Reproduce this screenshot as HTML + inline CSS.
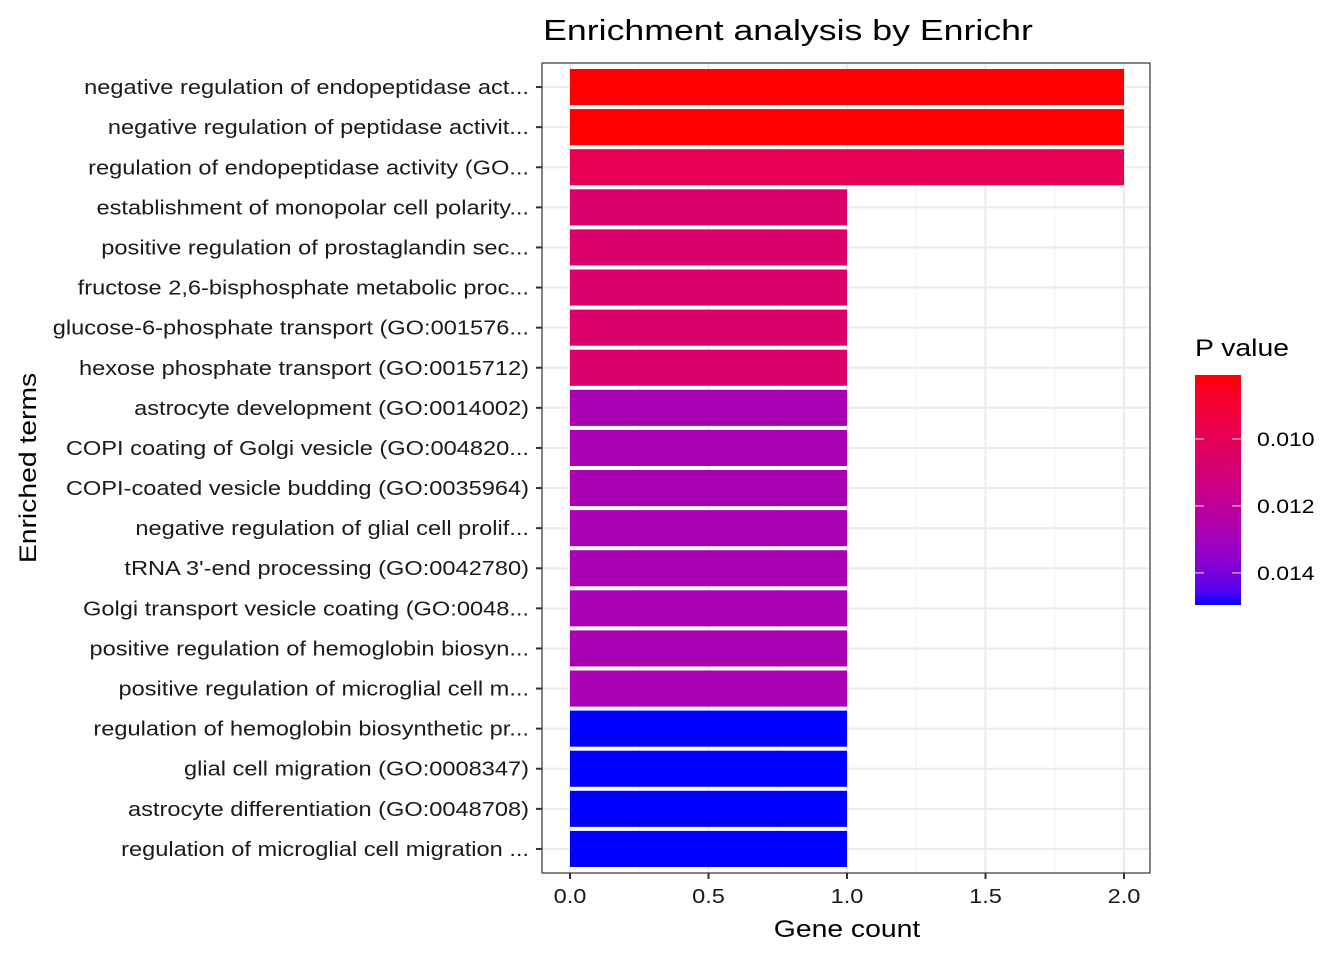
<!DOCTYPE html>
<html><head><meta charset="utf-8"><style>
body{margin:0;background:#fff}
svg text{font-family:"Liberation Sans",Arial,sans-serif}
</style></head><body>
<svg id="chart" width="1344" height="960" xmlns="http://www.w3.org/2000/svg">
<defs>
<linearGradient id="lg" x1="0" y1="0" x2="0" y2="1"></linearGradient>
</defs>
<rect width="1344" height="960" fill="#fff"/>
<text class="st" data-k="1.23" x="788" y="40" font-size="29" text-anchor="middle" fill="#000">Enrichment analysis by Enrichr</text>
<g id="panel"></g>
<text class="st" x="847" y="937" font-size="24" text-anchor="middle" fill="#000">Gene count</text>
<text class="st" transform="translate(36,468) rotate(-90)" font-size="24" text-anchor="middle" fill="#000">Enriched terms</text>
<g id="legend">
<text class="st" x="1195" y="356" font-size="24" fill="#000">P value</text>
</g>
</svg>
<script>
const terms = ["negative regulation of endopeptidase act...","negative regulation of peptidase activit...","regulation of endopeptidase activity (GO...","establishment of monopolar cell polarity...","positive regulation of prostaglandin sec...","fructose 2,6-bisphosphate metabolic proc...","glucose-6-phosphate transport (GO:001576...","hexose phosphate transport (GO:0015712)","astrocyte development (GO:0014002)","COPI coating of Golgi vesicle (GO:004820...","COPI-coated vesicle budding (GO:0035964)","negative regulation of glial cell prolif...","tRNA 3'-end processing (GO:0042780)","Golgi transport vesicle coating (GO:0048...","positive regulation of hemoglobin biosyn...","positive regulation of microglial cell m...","regulation of hemoglobin biosynthetic pr...","glial cell migration (GO:0008347)","astrocyte differentiation (GO:0048708)","regulation of microglial cell migration ..."];
const counts = [2,2,2,1,1,1,1,1,1,1,1,1,1,1,1,1,1,1,1,1];
const pvalues = [0.00809,0.00809,0.0099,0.0106,0.0106,0.0106,0.0106,0.0106,0.0128,0.0128,0.0128,0.0128,0.0128,0.0128,0.0128,0.0128,0.01496,0.01496,0.01496,0.01496];
const xTicks = [0,0.5,1,1.5,2];
const xTickLabels = ["0.0","0.5","1.0","1.5","2.0"];
const legendTicks = [0.010,0.012,0.014];
const legendLabels = ["0.010","0.012","0.014"];
const pMin = 0.00809, pMax = 0.01496;

const NS="http://www.w3.org/2000/svg";
const PL=542, PR=1150, PT=63, PB=873;
const x0=570, xPer=277;
const xs=v=>x0+v*xPer;
const band=(PB-PT)/(terms.length-1+1.2);
const ys=i=>PT+band*(0.6+i);

function toLin(c){c/=255;return c<=0.04045?c/12.92:Math.pow((c+0.055)/1.055,2.4);}
function toS(c){c=c<=0.0031308?12.92*c:1.055*Math.pow(c,1/2.4)-0.055;return Math.max(0,Math.min(255,Math.round(c*255)));}
function rgb2lab(r,g,b){r=toLin(r);g=toLin(g);b=toLin(b);
let X=(0.4124*r+0.3576*g+0.1805*b)/0.95047,Y=0.2126*r+0.7152*g+0.0722*b,Z=(0.0193*r+0.1192*g+0.9505*b)/1.08883;
const f=t=>t>0.008856?Math.cbrt(t):7.787*t+16/116;
return [116*f(Y)-16,500*(f(X)-f(Y)),200*(f(Y)-f(Z))];}
function lab2rgb(L,a,bb){let fy=(L+16)/116,fx=fy+a/500,fz=fy-bb/200;
const fi=t=>t*t*t>0.008856?t*t*t:(t-16/116)/7.787;
let X=fi(fx)*0.95047,Y=fi(fy),Z=fi(fz)*1.08883;
let r=3.2406*X-1.5372*Y-0.4986*Z,g=-0.9689*X+1.8758*Y+0.0415*Z,b=0.0557*X-0.2040*Y+1.0570*Z;
return `rgb(${toS(r)},${toS(g)},${toS(b)})`;}
const LR=rgb2lab(255,0,0), LB=rgb2lab(0,0,255);
function col(p){let t=(p-pMin)/(pMax-pMin);t=Math.max(0,Math.min(1,t));
return lab2rgb(LR[0]+(LB[0]-LR[0])*t,LR[1]+(LB[1]-LR[1])*t,LR[2]+(LB[2]-LR[2])*t);}

function mk(tag,attrs,parent){const e=document.createElementNS(NS,tag);for(const k in attrs)e.setAttribute(k,attrs[k]);parent.appendChild(e);return e;}
const svg=document.getElementById('chart');
const panel=document.getElementById('panel');
mk('rect',{x:PL,y:PT,width:PR-PL,height:PB-PT,fill:'#fff'},panel);
for(let i=0;i<xTicks.length-1;i++){const m=(xTicks[i]+xTicks[i+1])/2;
const l=mk('line',{x1:xs(m),x2:xs(m),y1:PT,y2:PB,stroke:'#F2F2F2','stroke-width':1},panel);

}
xTicks.forEach(v=>{const l=mk('line',{x1:xs(v),x2:xs(v),y1:PT,y2:PB,stroke:'#EBEBEB','stroke-width':2},panel);

});
terms.forEach((t,i)=>{const l=mk('line',{x1:PL,x2:PR,y1:ys(i),y2:ys(i),stroke:'#EBEBEB','stroke-width':2},panel);

});
const bh=band*0.9;
terms.forEach((t,i)=>{
const r=mk('rect',{x:xs(0),y:ys(i)-bh/2,width:xs(counts[i])-xs(0),height:bh,fill:col(pvalues[i])},panel);


const tk=mk('line',{x1:PL-6,x2:PL,y1:ys(i),y2:ys(i),stroke:'#333','stroke-width':2},svg);


const tx=mk('text',{x:PL-13,y:ys(i)+7,'font-size':'20','text-anchor':'end',fill:'#1a1a1a','class':'st'},svg);
tx.textContent=t;


});
mk('rect',{x:PL,y:PT,width:PR-PL,height:PB-PT,fill:'none',stroke:'#333','stroke-width':1.2},panel);
xTicks.forEach((v,i)=>{
const tk=mk('line',{x1:xs(v),x2:xs(v),y1:PB,y2:PB+6,stroke:'#333','stroke-width':2},svg);


const tx=mk('text',{x:xs(v),y:PB+30,'font-size':'20','text-anchor':'middle',fill:'#1a1a1a','class':'st'},svg);
tx.textContent=xTickLabels[i];


});
const LT=375, LBt=605, LX=1195, LW=46;
const ly=p=>LT+(p-pMin)/(pMax-pMin)*(LBt-LT);
const g=document.getElementById('lg');
for(let k=0;k<=20;k++){const p=pMin+(pMax-pMin)*k/20;mk('stop',{offset:(k*5)+'%','stop-color':col(p)},g);}
const leg=document.getElementById('legend');
const cb=mk('rect',{x:LX,y:LT,width:LW,height:LBt-LT,fill:'url(#lg)'},leg);


legendTicks.forEach((p,i)=>{
mk('line',{x1:LX,x2:LX+9,y1:ly(p),y2:ly(p),stroke:'#fff','stroke-opacity':0.6,'stroke-width':1.5},leg);
mk('line',{x1:LX+LW-9,x2:LX+LW,y1:ly(p),y2:ly(p),stroke:'#fff','stroke-opacity':0.6,'stroke-width':1.5},leg);
const tx=mk('text',{x:LX+LW+16,y:ly(p)+7,'font-size':'19.5',fill:'#000','class':'st'},leg);
tx.textContent=legendLabels[i];


});
document.querySelectorAll('text.st').forEach(t=>{
const k=parseFloat(t.getAttribute('data-k')||'1.18');
const len=t.getComputedTextLength();
t.setAttribute('textLength',(len*k).toFixed(1));
t.setAttribute('lengthAdjust','spacingAndGlyphs');
});
</script>
</body></html>
